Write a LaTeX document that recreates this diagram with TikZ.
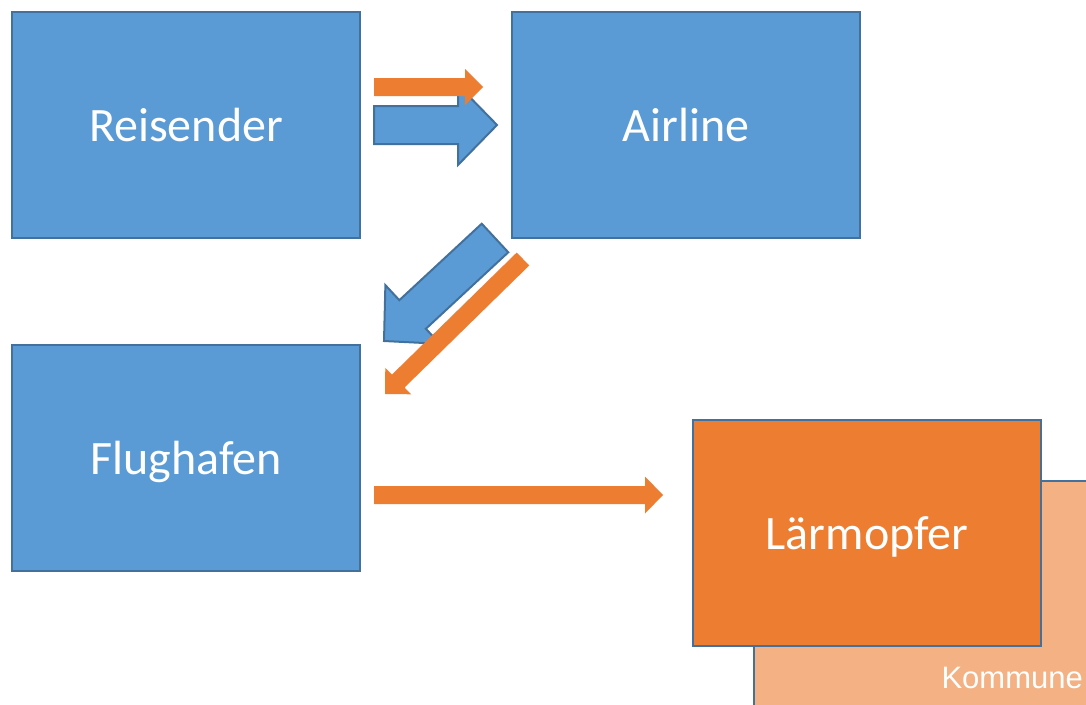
\documentclass[tikz,border=0pt]{standalone}
\usepackage{fontspec}
\setmainfont{Carlito}
\newfontfamily\arialfont{Liberation Sans}
\usetikzlibrary{calc}
\definecolor{boxblue}{HTML}{5B9BD5}
\definecolor{edgeblue}{HTML}{41719C}
\definecolor{boxorange}{HTML}{ED7D31}
\definecolor{lightorange}{HTML}{F4B183}
% #1 tail coordinate, #2 tip coordinate, #3 shaft half width, #4 head length, #5 head half width, #6 style
\newcommand{\blockarrow}[6]{%
  \coordinate (#1-#2-b) at ($(#2)!#4!(#1)$);
  \path[#6] ($(#1)!#3!90:(#2)$) -- ($(#1-#2-b)!#3!90:(#2)$) -- ($(#1-#2-b)!#5!90:(#2)$)
    -- (#2) -- ($(#1-#2-b)!#5!-90:(#2)$) -- ($(#1-#2-b)!#3!-90:(#2)$) -- ($(#1)!#3!-90:(#2)$) -- cycle;
}
\begin{document}
\begin{tikzpicture}[x=1pt,y=-1pt,
  box/.style={draw=edgeblue, line width=2pt, minimum width=348pt, minimum height=226pt,
    inner sep=0pt, text=white, text height=32pt, text depth=0pt, font=\fontsize{48}{56}\selectfont},
  bluearrow/.style={fill=boxblue, draw=edgeblue, line width=2pt, line join=miter},
  orangearrow/.style={fill=boxorange, draw=none}]
\clip (0,0) rectangle (1086,704);
\fill[white] (0,0) rectangle (1086,704);

\node[box, fill=boxblue] (reisender) at (186,125) {Reisender};
\node[box, fill=boxblue] (airline) at (686,125) {Airline};
\node[box, fill=boxblue] (flughafen) at (186,458) {Flughafen};

\node[draw=edgeblue, line width=2pt, fill=lightorange, minimum width=400pt, minimum height=260pt,
  inner sep=0pt, anchor=north west] (kommune) at (753,480) {};
\node[font=\arialfont\fontsize{31}{36}\selectfont, text=white, anchor=base east, inner sep=0pt]
  (kommunelabel) at (1083,688) {Kommune};
\node[box, fill=boxorange] (laermopfer) at (867,533) {Lärmopfer};

% arrow end points
\coordinate (t1) at (374,125);
\coordinate (p1) at (497,125);
\coordinate (t2) at (374,87);
\coordinate (p2) at (483,87);
\coordinate (t3) at (495,238);
\coordinate (p3) at (384,341);
\coordinate (t4) at (523,259);
\coordinate (p4) at (385,394);
\coordinate (t5) at (374,495);
\coordinate (p5) at (663,495);

\blockarrow{t1}{p1}{19pt}{39pt}{40pt}{bluearrow}
\blockarrow{t2}{p2}{9pt}{18pt}{18pt}{orangearrow}
\blockarrow{t3}{p3}{19.5pt}{39pt}{40pt}{bluearrow}
\blockarrow{t4}{p4}{9pt}{18.5pt}{18.5pt}{orangearrow}
\blockarrow{t5}{p5}{9pt}{18pt}{18.5pt}{orangearrow}
\end{tikzpicture}
\end{document}
